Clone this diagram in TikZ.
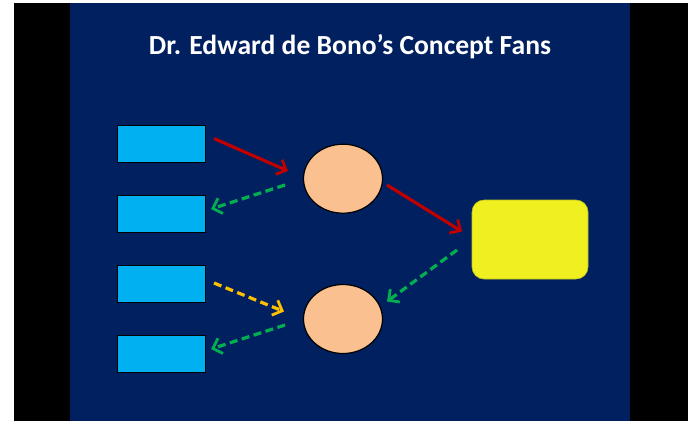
\documentclass[tikz,border=0pt]{standalone}
\usepackage{fontspec}
\setmainfont{Carlito}
\usetikzlibrary{arrows.meta,shapes.geometric}
\definecolor{slideblue}{HTML}{002060}
\definecolor{boxcyan}{HTML}{00B0F0}
\definecolor{peach}{HTML}{FAC090}
\definecolor{hotyellow}{HTML}{F0F020}
\definecolor{arrred}{HTML}{C00000}
\definecolor{arrgreen}{HTML}{00B050}
\definecolor{arrgold}{HTML}{FFC000}
\tikzset{
  srcbox/.style={draw=black, line width=0.9pt, fill=boxcyan, minimum width=88pt, minimum height=37pt, inner sep=0pt},
  concept/.style={ellipse, draw=black, line width=1.2pt, fill=peach, minimum width=79pt, minimum height=69pt, inner sep=0pt},
  target/.style={draw=hotyellow!80!black, line width=0.6pt, fill=hotyellow, rounded corners=12pt, minimum width=116pt, minimum height=79pt, inner sep=0pt},
  arr/.style={line width=3.2pt, -{Straight Barb[length=8pt,width=16pt,line width=2.8pt]}},
  solidred/.style={arr, arrred},
  dashgreen/.style={arr, arrgreen, dash pattern=on 8pt off 4.5pt},
  dashgold/.style={arr, arrgold, dash pattern=on 8pt off 4.5pt},
}
\begin{document}
\begin{tikzpicture}[x=1pt,y=-1pt]
\useasboundingbox (0,0) rectangle (688,421);
\fill[white] (0,0) rectangle (688,421);
\fill[black] (14,3) rectangle (688,421);
\fill[slideblue] (70,3) rectangle (630,421);
\node[text=white, font=\bfseries\fontsize{27.6}{32}\selectfont, anchor=base] (title) at (350,54.5) {Dr. Edward de Bono’s Concept Fans};
\node[srcbox] (r1) at (161,143.5) {};
\node[srcbox] (r2) at (161,213.5) {};
\node[srcbox] (r3) at (161,284) {};
\node[srcbox] (r4) at (161,354) {};
\node[concept] (c1) at (343,178.7) {};
\node[concept] (c2) at (343,319) {};
\node[target] (t) at (530,239.5) {};
\coordinate (a1s) at (214,138.5);
\coordinate (a1e) at (288,171);
\coordinate (g1s) at (285,185);
\coordinate (g1e) at (211,209);
\coordinate (a2s) at (387,185);
\coordinate (a2e) at (462,231.5);
\coordinate (g2s) at (457,250);
\coordinate (g2e) at (387,301.5);
\coordinate (y1s) at (214,283);
\coordinate (y1e) at (284,311.5);
\coordinate (g3s) at (285,325);
\coordinate (g3e) at (211,349);
\draw[solidred] (a1s) -- (a1e);
\draw[dashgreen] (g1s) -- (g1e);
\draw[solidred] (a2s) -- (a2e);
\draw[dashgreen] (g2s) -- (g2e);
\draw[dashgold] (y1s) -- (y1e);
\draw[dashgreen] (g3s) -- (g3e);
\end{tikzpicture}
\end{document}
